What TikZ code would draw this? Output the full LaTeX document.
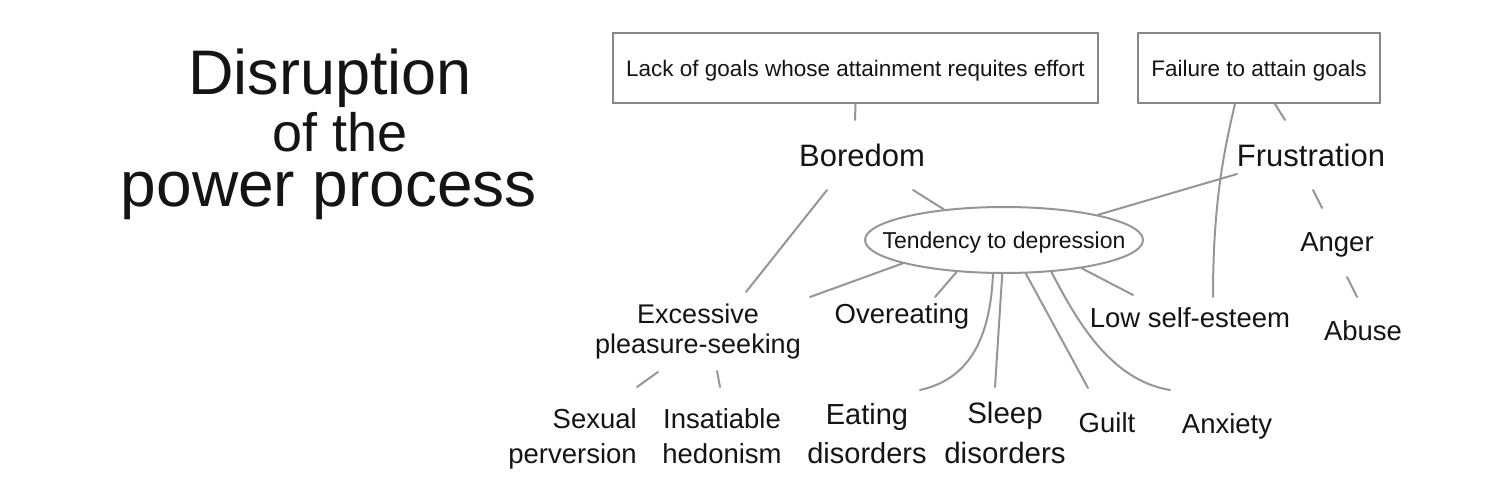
\documentclass[tikz,border=0pt]{standalone}
\usepackage{fontspec}
\setmainfont{Liberation Sans}
\usepackage{tikz}
\usetikzlibrary{shapes.geometric}
\definecolor{lgray}{RGB}{150,150,150}
\definecolor{bgray}{RGB}{135,135,135}
\definecolor{ink}{RGB}{20,20,20}

\begin{document}
\begin{tikzpicture}[x=1pt,y=-1pt,
  lab/.style={inner sep=0pt,anchor=base,align=center,text=ink,font=\fontsize{27.5}{35}\selectfont},
  labbig/.style={lab,font=\fontsize{31}{37}\selectfont},
  goalbox/.style={draw=bgray,line width=2pt,inner sep=0pt,text depth=0pt,text=ink,font=\fontsize{22.5}{27}\selectfont},
  depbox/.style={ellipse,draw=lgray,line width=2pt,inner xsep=-25pt,inner ysep=0pt,text depth=0pt,
    minimum width=278,minimum height=66,text=ink,font=\fontsize{23}{27}\selectfont},
  link/.style={draw=lgray,line width=2pt,line cap=round}]
\useasboundingbox (0,0) rectangle (1500,500);
% title
\node[lab,font=\fontsize{63}{70}\selectfont] (ttl1) at (330,95) {Disruption};
\node[lab,font=\fontsize{54}{60}\selectfont] (ttl2) at (340,152) {of the};
\node[lab,font=\fontsize{64}{70}\selectfont] (ttl3) at (329,207) {power process};
% causes
\node[goalbox,minimum width=485,minimum height=70] (goalsbox) at (855.5,68) {Lack of goals whose attainment requites effort};
\node[goalbox,minimum width=242,minimum height=70] (failbox) at (1259,68) {Failure to attain goals};
\node[labbig] (bored) at (862,167) {Boredom};
\node[labbig] (frust) at (1311,167) {Frustration};
\node[depbox] (depr) at (1004,240) {Tendency to depression};
% effects (two-line labels sit on their last baseline)
\foreach \nm/\x/\y/\txt in {anger/1337/251/Anger, abuse/1363/340/Abuse, overeat/902/323/Overeating,
  selfest/1190/327/Low self-esteem, guilt/1107/432/Guilt, anxiety/1227/433/Anxiety}
  \node[lab] (\nm) at (\x,\y) {\txt};
\node[lab,font=\fontsize{27}{30}\selectfont] (pleas) at (698,353) {Excessive\\pleasure-seeking};
\node[lab,anchor=base east,align=right] (sexual) at (637,463) {Sexual\\perversion};
\node[lab] (hedon) at (722,463) {Insatiable\\hedonism};
\node[lab,font=\fontsize{29}{39}\selectfont] (eatdis) at (867,463) {Eating\\disorders};
\node[lab,font=\fontsize{29.5}{40}\selectfont] (sleepdis) at (1005,463) {Sleep\\disorders};
% links
\draw[link] (goalsbox.south) -- ([shift={(-7,-47)}]bored.base);
\draw[link] ([shift={(51,23)}]bored.base) -- (depr.153);
\draw[link] ([shift={(-35,23)}]bored.base) -- ([shift={(48,-61)}]pleas.base);
\draw[link] ([xshift=-24]failbox.south) .. controls +(-12,50) and +(0,-90) .. ([shift={(23,-30)}]selfest.base);
\draw[link] ([xshift=16]failbox.south) -- ([shift={(-26,-47)}]frust.base);
\draw[link] ([shift={(-74,7)}]frust.base) -- (depr.15);
\draw[link] ([shift={(2,23)}]frust.base) -- ([shift={(-15,-43)}]anger.base);
\draw[link] ([shift={(10,26)}]anger.base) -- ([shift={(-6,-43)}]abuse.base);
\draw[link] (depr.193) -- ([shift={(112,-56)}]pleas.base);
\draw[link] (depr.-146) -- ([shift={(33,-26)}]overeat.base);
\draw[link] (depr.-108) .. controls +(-3,71) and +(45,-10) .. ([shift={(53,-73)}]eatdis.base);
\draw[link] (depr.-93) -- ([shift={(-10,-76)}]sleepdis.base);
\draw[link] (depr.-57) -- ([shift={(-19,-44)}]guilt.base);
\draw[link] (depr.-34) .. controls +(25,48) and +(-60,-10) .. ([shift={(-57,-43)}]anxiety.base);
\draw[link] (depr.-20) -- ([shift={(-57,-32)}]selfest.base);
\draw[link] ([shift={(-40,19)}]pleas.base) -- ([shift={(0,-76)}]sexual.base east);
\draw[link] ([shift={(19,18)}]pleas.base) -- ([shift={(-2,-76)}]hedon.base);
\end{tikzpicture}
\end{document}
